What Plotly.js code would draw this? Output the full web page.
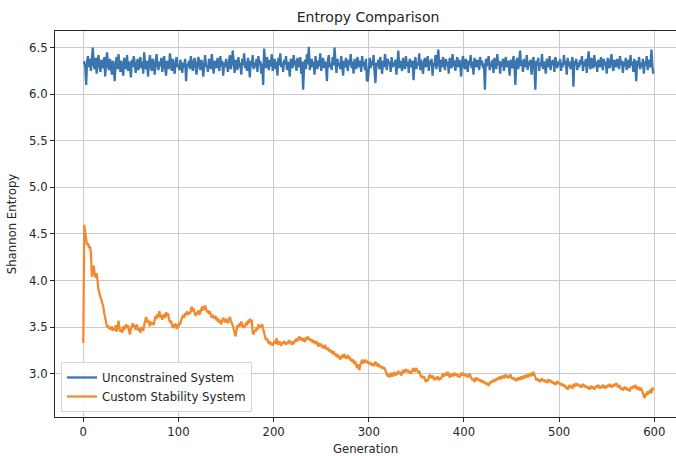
<!DOCTYPE html>
<html>
<head>
<meta charset="utf-8">
<script src="https://cdn.plot.ly/plotly-3.0.1.min.js"></script>
<style>
html,body{margin:0;padding:0;overflow:hidden;background:#fff;}
#chart{width:676px;height:456px;}
</style>
</head>
<body>
<div id="chart"></div>
<script>
const seriesNames = ["Unconstrained System", "Custom Stability System"];

const unconstrained = [
6.33,6.34,6.30,6.10,6.36,6.41,6.29,6.38,6.25,6.44,6.50,6.31,6.27,6.39,6.22,6.35,6.42,6.30,6.24,6.37,
6.33,6.28,6.40,6.19,6.35,6.45,6.30,6.26,6.38,6.32,6.21,6.36,6.29,6.14,6.34,6.40,6.27,6.43,6.31,6.24,
6.36,6.30,6.20,6.39,6.33,6.27,6.42,6.25,6.35,6.31,6.18,6.37,6.29,6.41,6.34,6.23,6.30,6.38,6.26,6.33,
6.40,6.28,6.35,6.22,6.45,6.31,6.27,6.36,6.19,6.33,6.42,6.30,6.25,6.38,6.34,6.21,6.29,6.43,6.32,6.26,
6.35,6.30,6.39,6.24,6.33,6.41,6.28,6.20,6.36,6.31,6.27,6.44,6.33,6.25,6.38,6.30,6.22,6.35,6.40,6.29,
6.32,6.26,6.37,6.31,6.23,6.34,6.29,6.38,6.14,6.33,6.30,6.36,6.27,6.41,6.32,6.25,6.35,6.39,6.28,6.21,
6.34,6.40,6.30,6.26,6.37,6.33,6.19,6.36,6.42,6.29,6.31,6.24,6.38,6.35,6.27,6.43,6.30,6.22,6.36,6.32,
6.28,6.39,6.33,6.25,6.41,6.30,6.36,6.20,6.34,6.29,6.38,6.31,6.24,6.35,6.42,6.27,6.33,6.47,6.30,6.23,
6.37,6.32,6.26,6.40,6.29,6.34,6.21,6.38,6.31,6.44,6.28,6.35,6.25,6.39,6.33,6.18,6.36,6.30,6.42,6.27,
6.34,6.29,6.38,6.24,6.41,6.31,6.36,6.22,6.33,6.10,6.49,6.35,6.28,6.40,6.32,6.26,6.37,6.30,6.43,6.25,
6.33,6.38,6.27,6.35,6.20,6.39,6.31,6.44,6.29,6.34,6.24,6.37,6.32,6.41,6.26,6.35,6.30,6.19,6.38,6.33,
6.28,6.42,6.31,6.36,6.25,6.39,6.33,6.29,6.40,6.22,6.35,6.05,6.30,6.37,6.27,6.43,6.32,6.51,6.26,6.34,
6.38,6.29,6.35,6.21,6.41,6.32,6.27,6.36,6.30,6.44,6.25,6.33,6.39,6.28,6.35,6.31,6.14,6.37,6.42,6.29,
6.33,6.26,6.40,6.31,6.50,6.35,6.23,6.38,6.30,6.34,6.27,6.41,6.32,6.20,6.36,6.29,6.39,6.33,6.25,6.37,
6.31,6.43,6.28,6.35,6.22,6.38,6.32,6.27,6.40,6.34,6.29,6.36,6.24,6.41,6.30,6.35,6.26,6.38,6.15,6.14,
6.33,6.39,6.28,6.36,6.31,6.42,6.25,6.12,6.34,6.30,6.37,6.27,6.40,6.33,6.22,6.36,6.29,6.43,6.31,6.26,
6.38,6.32,6.35,6.24,6.40,6.29,6.34,6.30,6.37,6.21,6.33,6.47,6.28,6.36,6.31,6.25,6.39,6.34,6.27,6.41,
6.30,6.35,6.23,6.38,6.32,6.29,6.36,6.15,6.33,6.40,6.27,6.34,6.31,6.44,6.26,6.37,6.30,6.22,6.35,6.39,
6.29,6.33,6.41,6.25,6.36,6.31,6.38,6.20,6.34,6.30,6.42,6.27,6.35,6.48,6.32,6.24,6.37,6.29,6.40,6.33,
6.26,6.38,6.31,6.35,6.22,6.39,6.33,6.28,6.43,6.30,6.36,6.25,6.34,6.40,6.29,6.37,6.32,6.19,6.35,6.41,
6.30,6.27,6.38,6.33,6.24,6.36,6.31,6.42,6.28,6.35,6.21,6.39,6.32,6.29,6.37,6.34,6.26,6.40,6.31,6.36,
6.28,6.33,6.05,6.38,6.30,6.35,6.41,6.26,6.34,6.29,6.37,6.23,6.39,6.32,6.27,6.43,6.31,6.36,6.22,6.35,
6.30,6.38,6.25,6.34,6.40,6.29,6.36,6.32,6.20,6.37,6.33,6.28,6.41,6.31,6.10,6.35,6.39,6.27,6.34,6.47,
6.30,6.36,6.24,6.38,6.32,6.29,6.42,6.26,6.35,6.31,6.37,6.21,6.33,6.40,6.28,6.05,6.36,6.31,6.39,6.25,
6.34,6.30,6.43,6.27,6.35,6.32,6.22,6.38,6.33,6.29,6.41,6.26,6.36,6.31,6.37,6.24,6.40,6.33,6.28,6.35,
6.31,6.38,6.25,6.34,6.29,6.42,6.32,6.36,6.21,6.39,6.30,6.35,6.27,6.33,6.40,6.08,6.36,6.31,6.38,6.26,
6.34,6.29,6.37,6.32,6.41,6.25,6.35,6.30,6.38,6.23,6.36,6.46,6.31,6.27,6.39,6.33,6.28,6.42,6.30,6.35,
6.24,6.37,6.32,6.29,6.40,6.34,6.26,6.38,6.31,6.35,6.22,6.39,6.33,6.28,6.36,6.43,6.30,6.25,6.37,6.32,
6.29,6.38,6.34,6.27,6.41,6.31,6.36,6.23,6.35,6.30,6.39,6.26,6.33,6.37,6.28,6.42,6.31,6.35,6.24,6.38,
6.32,6.14,6.36,6.30,6.40,6.27,6.34,6.29,6.38,6.22,6.35,6.31,6.41,6.26,6.33,6.37,6.29,6.48,6.30,6.22
];

const customStability = [
3.33,4.60,4.52,4.45,4.38,4.40,4.35,4.37,4.30,4.04,4.12,4.16,4.06,4.03,4.08,3.96,3.90,3.86,3.83,3.79,
3.76,3.72,3.65,3.60,3.53,3.50,3.52,3.48,3.50,3.47,3.51,3.46,3.49,3.47,3.52,3.45,3.50,3.57,3.49,3.45,
3.48,3.44,3.51,3.47,3.50,3.53,3.49,3.52,3.46,3.42,3.48,3.51,3.54,3.50,3.52,3.47,3.53,3.50,3.46,3.49,
3.44,3.50,3.48,3.46,3.52,3.56,3.61,3.55,3.58,3.54,3.51,3.56,3.53,3.55,3.52,3.58,3.62,3.59,3.64,3.61,
3.67,3.60,3.63,3.58,3.61,3.64,3.60,3.66,3.62,3.65,3.59,3.55,3.57,3.52,3.49,3.53,3.50,3.54,3.48,3.51,
3.50,3.55,3.53,3.58,3.62,3.63,3.60,3.65,3.64,3.67,3.63,3.66,3.64,3.69,3.72,3.67,3.70,3.65,3.62,3.66,
3.64,3.68,3.63,3.66,3.70,3.72,3.68,3.71,3.73,3.70,3.66,3.68,3.64,3.67,3.62,3.60,3.63,3.61,3.59,3.62,
3.57,3.60,3.55,3.58,3.56,3.53,3.57,3.60,3.58,3.55,3.59,3.56,3.54,3.58,3.61,3.57,3.55,3.52,3.48,3.44,
3.40,3.47,3.52,3.50,3.54,3.51,3.56,3.53,3.49,3.52,3.50,3.55,3.52,3.57,3.54,3.59,3.55,3.58,3.44,3.42,
3.47,3.45,3.50,3.47,3.53,3.49,3.52,3.50,3.53,3.48,3.44,3.40,3.36,3.38,3.34,3.32,3.35,3.31,3.33,3.30,
3.33,3.35,3.32,3.38,3.34,3.31,3.35,3.33,3.30,3.34,3.32,3.35,3.33,3.31,3.34,3.32,3.36,3.33,3.35,3.31,
3.33,3.32,3.36,3.34,3.38,3.35,3.37,3.40,3.36,3.39,3.35,3.38,3.36,3.34,3.39,3.37,3.40,3.36,3.38,3.35,
3.37,3.33,3.36,3.34,3.32,3.35,3.31,3.29,3.33,3.30,3.32,3.28,3.30,3.27,3.31,3.29,3.26,3.28,3.24,3.26,
3.23,3.25,3.21,3.24,3.20,3.22,3.18,3.21,3.17,3.19,3.15,3.18,3.20,3.17,3.21,3.19,3.16,3.18,3.20,3.17,
3.18,3.14,3.16,3.12,3.15,3.10,3.13,3.08,3.06,3.10,3.04,3.09,3.12,3.15,3.11,3.14,3.15,3.12,3.14,3.11,
3.13,3.10,3.12,3.09,3.11,3.08,3.11,3.13,3.10,3.08,3.11,3.07,3.09,3.06,3.08,3.05,3.07,3.04,3.02,2.99,
2.97,3.00,2.96,2.99,3.01,2.97,3.00,3.02,2.98,3.01,2.99,3.03,3.00,3.02,2.98,3.01,3.04,3.01,3.03,3.05,
3.02,3.04,3.01,3.03,3.00,3.02,3.05,3.06,3.02,3.04,3.06,3.03,3.01,3.03,2.99,2.96,2.98,2.95,2.97,2.93,
2.91,2.94,2.92,2.96,2.99,2.97,2.95,2.98,2.95,2.93,2.96,2.94,2.97,2.95,2.93,2.96,2.94,2.98,3.00,2.97,
2.99,3.01,2.98,3.02,2.99,2.96,2.98,3.00,2.97,2.99,3.01,2.98,3.00,2.97,2.99,2.96,2.98,3.00,2.99,3.01,
2.98,3.00,2.97,2.99,2.96,2.98,3.00,2.97,2.95,2.93,2.95,2.91,2.94,2.96,2.93,2.95,2.92,2.94,2.91,2.93,
2.90,2.92,2.89,2.91,2.88,2.90,2.87,2.89,2.92,2.90,2.93,2.91,2.94,2.92,2.95,2.93,2.96,2.94,2.97,2.95,
2.96,2.98,2.95,2.97,2.99,2.96,2.98,2.95,2.97,2.99,2.96,2.94,2.96,2.93,2.95,2.92,2.94,2.96,2.93,2.95,
2.97,2.94,2.96,2.98,2.95,2.97,2.99,2.96,2.98,3.00,2.97,3.01,2.98,3.02,2.99,2.96,2.93,2.95,2.92,2.94,
2.91,2.93,2.95,2.92,2.94,2.91,2.93,2.90,2.92,2.94,2.91,2.93,2.90,2.92,2.89,2.91,2.88,2.90,2.92,2.89,
2.91,2.88,2.90,2.87,2.89,2.86,2.88,2.84,2.86,2.83,2.86,2.88,2.85,2.87,2.84,2.89,2.86,2.88,2.90,2.87,
2.89,2.86,2.88,2.85,2.87,2.89,2.86,2.88,2.85,2.87,2.84,2.86,2.83,2.85,2.87,2.84,2.86,2.83,2.85,2.87,
2.85,2.88,2.86,2.84,2.87,2.85,2.88,2.86,2.84,2.87,2.85,2.88,2.86,2.89,2.87,2.85,2.88,2.86,2.89,2.87,
2.90,2.87,2.85,2.88,2.86,2.83,2.85,2.82,2.84,2.86,2.83,2.85,2.82,2.84,2.81,2.83,2.86,2.84,2.87,2.85,
2.88,2.85,2.83,2.86,2.84,2.82,2.85,2.81,2.78,2.76,2.74,2.79,2.77,2.81,2.78,2.80,2.83,2.79,2.85,2.82
];

const xTickVals = [0, 100, 200, 300, 400, 500, 600];
const yTickVals = [3.0, 3.5, 4.0, 4.5, 5.0, 5.5, 6.0, 6.5];
const yTickText = ["3.0", "3.5", "4.0", "4.5", "5.0", "5.5", "6.0", "6.5"];

const generations = unconstrained.map((_, i) => i);

const font = "DejaVu Sans, sans-serif";
const textColor = "#262626";

const traces = [
  {
    x: generations, y: unconstrained, name: seriesNames[0],
    type: "scatter", mode: "lines",
    line: {color: "#3a75b0", width: 2.3}
  },
  {
    x: generations, y: customStability, name: seriesNames[1],
    type: "scatter", mode: "lines",
    line: {color: "#f28b30", width: 2.3}
  }
];

const layout = {
  width: 676, height: 456,
  margin: {l: 55, r: 0, t: 31, b: 39, pad: 0},
  paper_bgcolor: "#ffffff", plot_bgcolor: "#ffffff",
  font: {family: font, size: 11.7, color: textColor},
  title: {
    text: "Entropy Comparison",
    font: {family: font, size: 14, color: textColor},
    x: 368 / 676, xref: "container", xanchor: "center",
    y: 1 - 17 / 456, yref: "container", yanchor: "middle"
  },
  xaxis: {
    range: [-29.74, 622.8],
    tickvals: xTickVals,
    ticks: "outside", ticklen: 4, tickwidth: 1, tickcolor: "#262626",
    showline: true, linecolor: "#262626", linewidth: 1, mirror: true,
    showgrid: true, gridcolor: "#cbcbcb", gridwidth: 1,
    zeroline: false,
    tickfont: {family: font, size: 11.7, color: textColor},
    title: {text: "Generation", font: {family: font, size: 11.7, color: textColor}, standoff: 6}
  },
  yaxis: {
    range: [2.535, 6.679],
    tickvals: yTickVals, ticktext: yTickText,
    ticks: "outside", ticklen: 4, tickwidth: 1, tickcolor: "#262626",
    showline: true, linecolor: "#262626", linewidth: 1, mirror: false,
    showgrid: true, gridcolor: "#cbcbcb", gridwidth: 1,
    zeroline: false,
    tickfont: {family: font, size: 11.7, color: textColor},
    title: {text: "Shannon Entropy", font: {family: font, size: 11.7, color: textColor}, standoff: 9}
  },
  showlegend: true,
  legend: {
    x: 0.0097, y: 0.013, xanchor: "left", yanchor: "bottom",
    bgcolor: "rgba(255,255,255,0.85)", bordercolor: "#d6d6d6", borderwidth: 1,
    font: {family: font, size: 11.7, color: textColor},
    tracegroupgap: 0, itemwidth: 30
  }
};

Plotly.newPlot("chart", traces, layout, {displayModeBar: false, responsive: false});
</script>
</body>
</html>
